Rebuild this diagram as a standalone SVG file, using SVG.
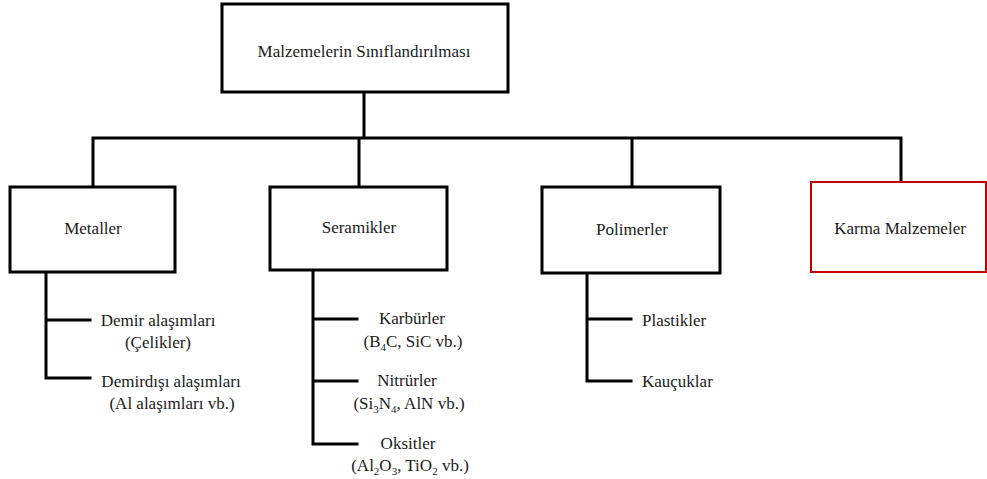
<svg xmlns="http://www.w3.org/2000/svg" width="987" height="479" viewBox="0 0 987 479">
<style>
text{font-family:"Liberation Serif","Times New Roman",serif;font-size:17px;fill:#1a1a1a}
.c{text-anchor:middle}
.box{fill:#fff;stroke:#000;stroke-width:3}
.red{fill:#fff;stroke:#c00000;stroke-width:2}
.ln{fill:none;stroke:#000;stroke-width:3;stroke-linecap:square}
.s{font-size:11px}
</style>
<rect width="987" height="479" fill="#fff"/>
<g id="connectors">
<path class="ln" d="M364 92V138M93 187V138H901V182M359 138V187M632 138V187"/>
<path class="ln" d="M46 272V378H90M46 320H90"/>
<path class="ln" d="M313 270V444H357M313 319H357M313 381H357"/>
<path class="ln" d="M587 273V381H631M587 319H631"/>
</g>
<g id="root"><rect class="box" x="222" y="4" width="286" height="88"/><text class="c" x="364" y="57">Malzemelerin Sınıflandırılması</text></g>
<g id="metaller"><rect class="box" x="10" y="187" width="165" height="85"/><text class="c" x="93" y="234">Metaller</text></g>
<g id="seramikler"><rect class="box" x="270" y="187" width="177" height="83"/><text class="c" x="359" y="233">Seramikler</text></g>
<g id="polimerler"><rect class="box" x="542" y="187" width="178" height="86"/><text class="c" x="632" y="235">Polimerler</text></g>
<g id="karma"><rect class="red" x="811" y="182" width="175" height="90"/><text class="c" x="900" y="234">Karma Malzemeler</text></g>
<g id="demir"><text class="c" x="158" y="326">Demir alaşımları</text><text class="c" x="158" y="348">(Çelikler)</text></g>
<g id="demirdisi"><text class="c" x="171" y="387">Demirdışı alaşımları</text><text class="c" x="172" y="409">(Al alaşımları vb.)</text></g>
<g id="karburler"><text class="c" x="412" y="324">Karbürler</text><text class="c" x="413" y="347">(B<tspan class="s" dy="4">4</tspan><tspan dy="-4">C, SiC vb.)</tspan></text></g>
<g id="nitrurler"><text class="c" x="407" y="386">Nitrürler</text><text class="c" x="409" y="409">(Si<tspan class="s" dy="4">3</tspan><tspan dy="-4">N</tspan><tspan class="s" dy="4">4</tspan><tspan dy="-4">, AlN vb.)</tspan></text></g>
<g id="oksitler"><text class="c" x="408" y="449">Oksitler</text><text class="c" x="410" y="471">(Al<tspan class="s" dy="4">2</tspan><tspan dy="-4">O</tspan><tspan class="s" dy="4">3</tspan><tspan dy="-4">, TiO</tspan><tspan class="s" dy="4">2</tspan><tspan dy="-4"> vb.)</tspan></text></g>
<g id="plastikler"><text x="642" y="326">Plastikler</text></g>
<g id="kaucuklar"><text x="642" y="387">Kauçuklar</text></g>
</svg>
